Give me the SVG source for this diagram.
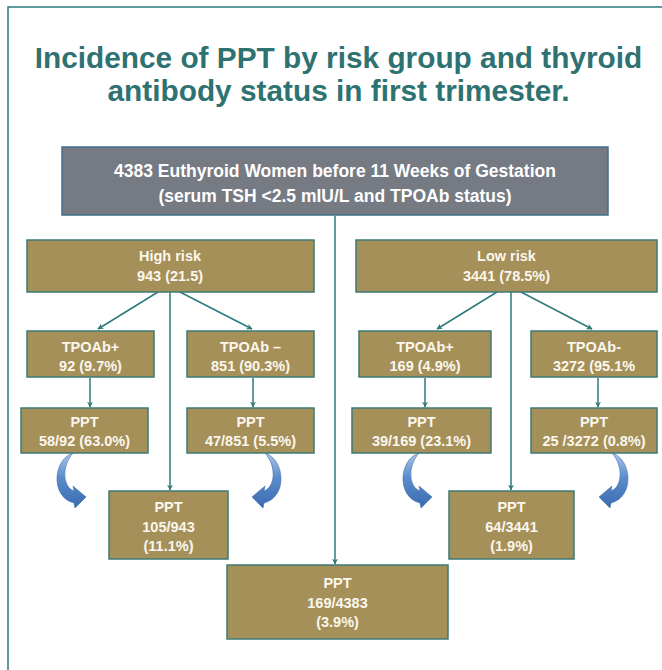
<svg xmlns="http://www.w3.org/2000/svg" width="662" height="670" viewBox="0 0 662 670">
<style>
.title{font-family:"Liberation Sans",Arial,sans-serif;font-weight:bold;font-size:29.8px;fill:#2f7272;text-anchor:middle}
.box{fill:#a69059;stroke:#3d7a78;stroke-width:1.5}
.gbox{fill:#767a83;stroke:#3f6f8c;stroke-width:1.5}
.t{font-family:"Liberation Sans",Arial,sans-serif;font-weight:bold;font-size:14.5px;fill:#fbf7ee;text-anchor:middle}
.tl{font-family:"Liberation Sans",Arial,sans-serif;font-weight:bold;font-size:17.5px;fill:#ffffff;text-anchor:middle}
.c{stroke:#2e7a7a;stroke-width:1.5;fill:none;marker-end:url(#ah)}
.curve{fill:url(#bg);stroke:#3f6fae;stroke-width:0.6}
</style>
<defs>
<marker id="ah" viewBox="0 0 10 10" refX="9" refY="5" markerWidth="6" markerHeight="6" orient="auto" markerUnits="userSpaceOnUse">
<path d="M0,0 L10,5 L0,10 L3,5 Z" fill="#2e7a7a"/>
</marker>
<linearGradient id="bg" x1="0" y1="0" x2="0" y2="1">
<stop offset="0" stop-color="#a9c5e8"/>
<stop offset="0.45" stop-color="#5a8ccb"/>
<stop offset="1" stop-color="#3a6bb0"/>
</linearGradient>
<path id="carrow" d="M73 453 C53 459 50 497 74 503 L75 508 L86 497 L73 486 L74 491 C63 487 61 467 73 453 Z"/>
</defs>
<path d="M8 670 V7 H662" fill="none" stroke="#2e7a7a" stroke-width="1.5"/>
<text class="title" x="338.5" y="68">Incidence of PPT by risk group and thyroid</text>
<text class="title" x="338.5" y="101">antibody status in first trimester.</text>

<g id="connectors">
<line class="c" x1="335" y1="216" x2="335" y2="564"/>
<line class="c" x1="158" y1="292" x2="98" y2="329"/>
<line class="c" x1="180" y1="292" x2="252" y2="329"/>
<line class="c" x1="170" y1="292" x2="170" y2="490"/>
<line class="c" x1="90" y1="378" x2="90" y2="407"/>
<line class="c" x1="253" y1="378" x2="253" y2="407"/>
<line class="c" x1="497" y1="292" x2="437" y2="329"/>
<line class="c" x1="521" y1="292" x2="592" y2="329"/>
<line class="c" x1="511" y1="292" x2="511" y2="490"/>
<line class="c" x1="425" y1="378" x2="425" y2="407"/>
<line class="c" x1="598" y1="378" x2="598" y2="407"/>
<use href="#carrow" class="curve"/>
<use href="#carrow" class="curve" transform="translate(338,0) scale(-1,1)"/>
<use href="#carrow" class="curve" transform="translate(346,0)"/>
<use href="#carrow" class="curve" transform="translate(685,0) scale(-1,1)"/>
</g>

<g id="top">
<rect class="gbox" x="62" y="147" width="546" height="68"/>
<text class="tl" x="335" y="177">4383 Euthyroid Women before 11 Weeks of Gestation</text>
<text class="tl" x="335" y="202">(serum TSH &lt;2.5 mIU/L and TPOAb status)</text>
</g>

<g id="high">
<rect class="box" x="27" y="240" width="287" height="52"/>
<text class="t" x="170" y="261">High risk</text>
<text class="t" x="170" y="281">943 (21.5)</text>
</g>
<g id="low">
<rect class="box" x="356" y="240" width="301" height="52"/>
<text class="t" x="506.5" y="261">Low risk</text>
<text class="t" x="506.5" y="281">3441 (78.5%)</text>
</g>

<g id="h_pos">
<rect class="box" x="27" y="331" width="127" height="46"/>
<text class="t" x="90.5" y="352">TPOAb+</text>
<text class="t" x="90.5" y="371">92 (9.7%)</text>
</g>
<g id="h_neg">
<rect class="box" x="187" y="331" width="127" height="46"/>
<text class="t" x="250.5" y="352">TPOAb –</text>
<text class="t" x="250.5" y="371">851 (90.3%)</text>
</g>
<g id="l_pos">
<rect class="box" x="359" y="331" width="132" height="46"/>
<text class="t" x="425" y="352">TPOAb+</text>
<text class="t" x="425" y="371">169 (4.9%)</text>
</g>
<g id="l_neg">
<rect class="box" x="531" y="331" width="126" height="46"/>
<text class="t" x="594" y="352">TPOAb-</text>
<text class="t" x="594" y="371">3272 (95.1%</text>
</g>

<g id="h_pos_ppt">
<rect class="box" x="21" y="408" width="127" height="45"/>
<text class="t" x="84.5" y="427">PPT</text>
<text class="t" x="84.5" y="446">58/92 (63.0%)</text>
</g>
<g id="h_neg_ppt">
<rect class="box" x="187" y="408" width="127" height="45"/>
<text class="t" x="250.5" y="427">PPT</text>
<text class="t" x="250.5" y="446">47/851 (5.5%)</text>
</g>
<g id="l_pos_ppt">
<rect class="box" x="352" y="408" width="139" height="45"/>
<text class="t" x="421.5" y="427">PPT</text>
<text class="t" x="421.5" y="446">39/169 (23.1%)</text>
</g>
<g id="l_neg_ppt">
<rect class="box" x="531" y="408" width="126" height="45"/>
<text class="t" x="594" y="427">PPT</text>
<text class="t" x="594" y="446">25 /3272 (0.8%)</text>
</g>

<g id="h_ppt">
<rect class="box" x="109" y="491" width="119" height="68"/>
<text class="t" x="168.5" y="512">PPT</text>
<text class="t" x="168.5" y="532">105/943</text>
<text class="t" x="168.5" y="551">(11.1%)</text>
</g>
<g id="l_ppt">
<rect class="box" x="449" y="491" width="125" height="68"/>
<text class="t" x="511.5" y="512">PPT</text>
<text class="t" x="511.5" y="532">64/3441</text>
<text class="t" x="511.5" y="551">(1.9%)</text>
</g>
<g id="total_ppt">
<rect class="box" x="227" y="565" width="221" height="74"/>
<text class="t" x="337.5" y="588">PPT</text>
<text class="t" x="337.5" y="608">169/4383</text>
<text class="t" x="337.5" y="627">(3.9%)</text>
</g>
</svg>
